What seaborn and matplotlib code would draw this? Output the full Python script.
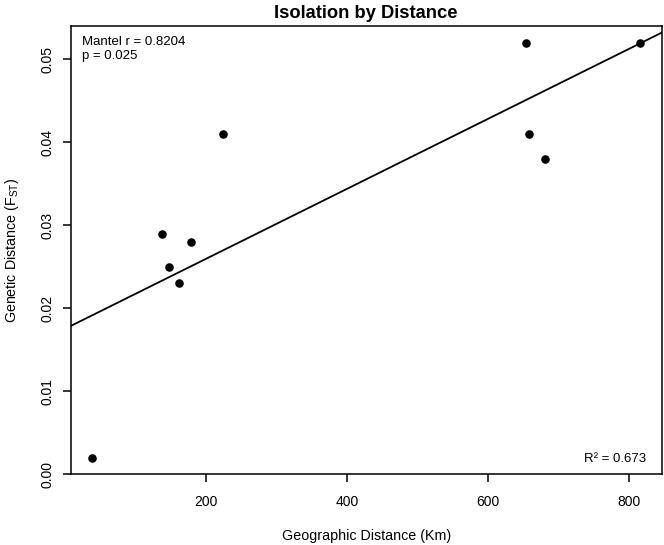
import matplotlib
matplotlib.use("Agg")
import matplotlib.pyplot as plt
import seaborn as sns
import pandas as pd

# Data
geo_km = [38, 138, 147, 161, 179, 224, 653, 658, 680, 815]
fst = [0.002, 0.029, 0.025, 0.023, 0.028, 0.041, 0.052, 0.041, 0.038, 0.052]
x_ticks = [200, 400, 600, 800]
y_ticks = [0.00, 0.01, 0.02, 0.03, 0.04, 0.05]
y_tick_labels = ["0.00", "0.01", "0.02", "0.03", "0.04", "0.05"]
mantel_text = "Mantel r = 0.8204\np = 0.025"
r2_text = "R\u00b2 = 0.673"

df = pd.DataFrame({"geo": geo_km, "fst": fst})

sns.set_style("ticks")
plt.rcParams["font.family"] = ["Liberation Sans", "DejaVu Sans"]
plt.rcParams["mathtext.fontset"] = "custom"
plt.rcParams["mathtext.rm"] = "Liberation Sans"
plt.rcParams["text.color"] = "black"
plt.rcParams["axes.labelcolor"] = "black"

fig = plt.figure(figsize=(6.64, 5.45), dpi=100)
ax = fig.add_axes([70.7 / 664, 1 - 474.3 / 545, (661.7 - 70.7) / 664, (474.3 - 26) / 545])

xlim = (8, 846)
ylim = (0, 0.054)
ax.set_xlim(*xlim)
ax.set_ylim(*ylim)

sns.regplot(data=df, x="geo", y="fst", ax=ax, ci=None, truncate=False,
            scatter_kws=dict(s=38, color="black", alpha=1, linewidths=0, zorder=3),
            line_kws=dict(color="black", lw=1.3, zorder=2))
ax.set_xlim(*xlim)
ax.set_ylim(*ylim)

ax.set_xticks(x_ticks)
ax.set_xticklabels([str(t) for t in x_ticks], fontsize=10)
ax.set_yticks(y_ticks)
ax.set_yticklabels(y_tick_labels, fontsize=10, rotation=90, va="center")

for side in ["left", "right", "top", "bottom"]:
    ax.spines[side].set_visible(True)
    ax.spines[side].set_color("black")
    ax.spines[side].set_linewidth(1.1)
ax.tick_params(axis="both", direction="out", length=6, width=1.1, color="black",
               labelcolor="black")
ax.tick_params(axis="x", pad=9)
ax.tick_params(axis="y", pad=6)

ax.set_xlabel("Geographic Distance (Km)", fontsize=10.3, labelpad=14, color="black")
ax.set_ylabel("Genetic Distance (F$_{\\mathregular{ST}}$)", fontsize=10.3, labelpad=14,
              color="black")
fig.text(366 / 664, 1 - 13 / 545, "Isolation by Distance", ha="center", va="center",
         fontsize=13.2, fontweight="bold", color="black")

ax.text(0.019, 0.978, mantel_text, transform=ax.transAxes, ha="left", va="top",
        fontsize=9.5, linespacing=1.2, color="black")
ax.text(0.974, 0.035, r2_text, transform=ax.transAxes, ha="right", va="center",
        fontsize=9.5, color="black")

fig.savefig("out.png", dpi=100, facecolor="white")
